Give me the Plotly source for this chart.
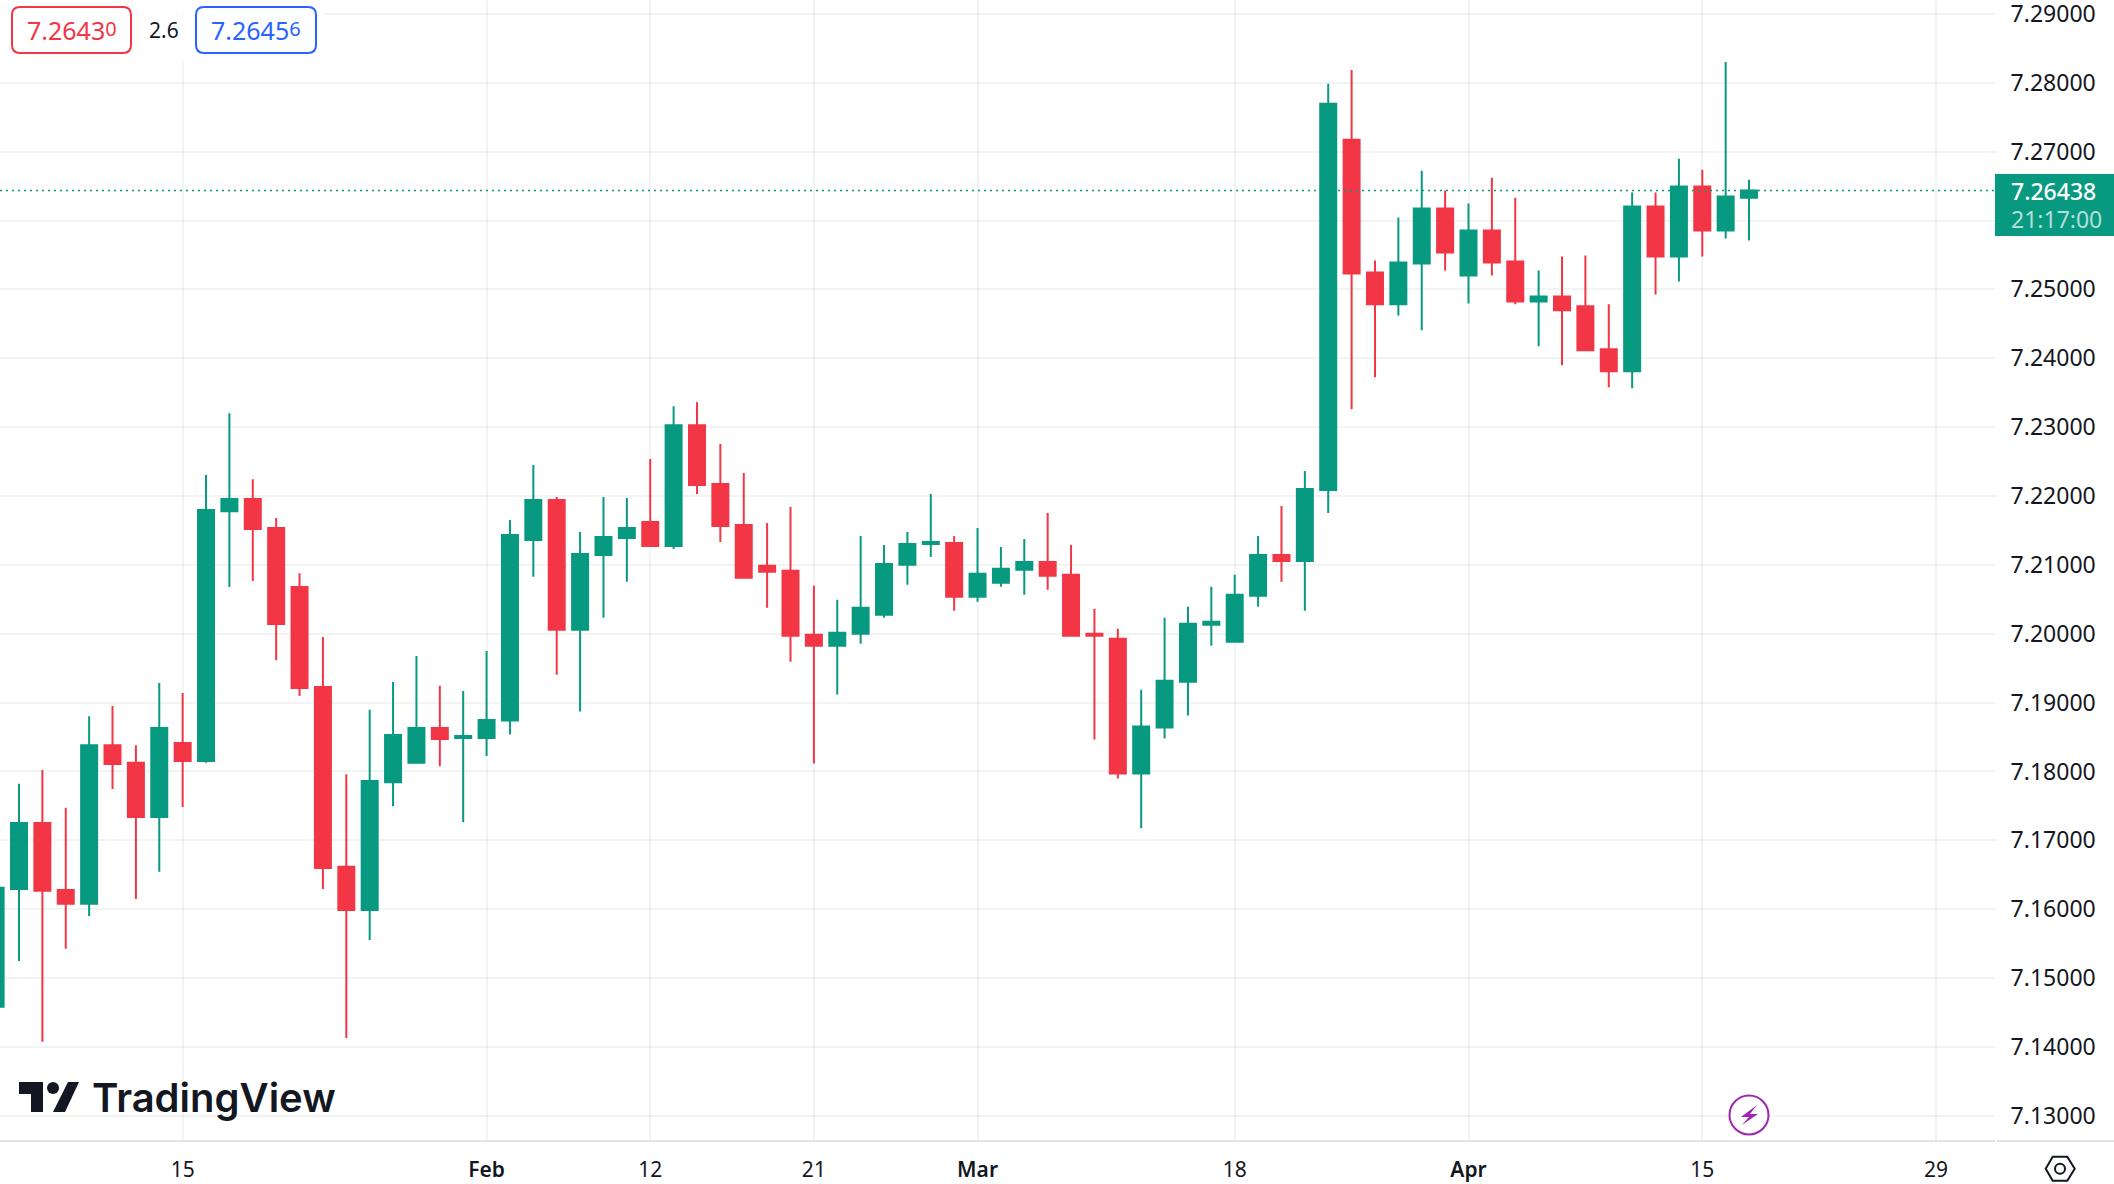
import pandas as pd
import plotly.graph_objects as go

W, H = 2114, 1184
PLOT_RIGHT, PLOT_BOTTOM = 1995, 1140
GREEN = "#089981"
RED = "#f23645"
BLUE = "#2962ff"
INK = "#131722"
FONT = "Noto Sans"

# 1. Daily candles
dates = pd.bdate_range("2024-01-03", "2024-04-17") + pd.Timedelta(hours=12)

opens = [7.14582, 7.16293, 7.17252, 7.16280, 7.16079, 7.18382, 7.18125, 7.17337, 7.18412, 7.18150,
         7.21778, 7.21955, 7.21534, 7.20679, 7.19225, 7.16616, 7.15987, 7.17844, 7.18125, 7.18632,
         7.18486, 7.18486, 7.18739, 7.21362, 7.21942, 7.20058, 7.21145, 7.21391, 7.21623, 7.21275,
         7.23029, 7.22174, 7.21580, 7.20986, 7.20913, 7.19986, 7.19826, 7.20000, 7.20275, 7.21000,
         7.21304, 7.21319, 7.20536, 7.20739, 7.20928, 7.21043, 7.20855, 7.20000, 7.19928, 7.17971,
         7.18638, 7.19304, 7.20130, 7.19884, 7.20551, 7.21145, 7.21058, 7.22087, 7.27174, 7.25246,
         7.24783, 7.25377, 7.26174, 7.25203, 7.25855, 7.25406, 7.24826, 7.24899, 7.24754, 7.24130,
         7.23812, 7.26203, 7.25478, 7.26493, 7.25855, 7.26333]
highs = [7.16900, 7.17820, 7.18021, 7.17472, 7.18803, 7.18950, 7.18382, 7.19286, 7.19139, 7.22304,
         7.23202, 7.22243, 7.21681, 7.20880, 7.19952, 7.17960, 7.18895, 7.19298, 7.19677, 7.19243,
         7.19170, 7.19750, 7.21652, 7.22449, 7.21986, 7.21478, 7.21986, 7.21971, 7.22536, 7.23304,
         7.23362, 7.22754, 7.22333, 7.21609, 7.21841, 7.20696, 7.20493, 7.21420, 7.21290, 7.21478,
         7.22029, 7.21420, 7.21536, 7.21261, 7.21377, 7.21754, 7.21290, 7.20362, 7.20072, 7.19188,
         7.20232, 7.20391, 7.20681, 7.20855, 7.21420, 7.21855, 7.22362, 7.27986, 7.28188, 7.25420,
         7.26043, 7.26725, 7.26435, 7.26246, 7.26623, 7.26333, 7.25275, 7.25478, 7.25493, 7.24783,
         7.26406, 7.26406, 7.26899, 7.26739, 7.28304, 7.26594]
lows = [7.14200, 7.15248, 7.14075, 7.15425, 7.15902, 7.17746, 7.16146, 7.16543, 7.17484, 7.18125,
        7.20679, 7.20764, 7.19616, 7.19097, 7.16293, 7.14130, 7.15553, 7.17496, 7.18120, 7.18076,
        7.17264, 7.18223, 7.18536, 7.20826, 7.19406, 7.18870, 7.20232, 7.20754, 7.21261, 7.21232,
        7.22029, 7.21333, 7.20812, 7.20377, 7.19594, 7.18116, 7.19116, 7.19855, 7.20232, 7.20710,
        7.21116, 7.20333, 7.20464, 7.20681, 7.20565, 7.20638, 7.19957, 7.18464, 7.17899, 7.17174,
        7.18478, 7.18812, 7.19826, 7.19884, 7.20391, 7.20754, 7.20333, 7.21754, 7.23261, 7.23725,
        7.24623, 7.24406, 7.25275, 7.24797, 7.25203, 7.24783, 7.24174, 7.23899, 7.24101, 7.23580,
        7.23565, 7.24928, 7.25116, 7.25478, 7.25739, 7.25710]
closes = [7.16311, 7.17252, 7.16268, 7.16079, 7.18382, 7.18107, 7.17337, 7.18632, 7.18150, 7.21797,
          7.21955, 7.21522, 7.20141, 7.19213, 7.16598, 7.15987, 7.17863, 7.18528, 7.18632, 7.18473,
          7.18516, 7.18748, 7.21435, 7.21942, 7.20058, 7.21159, 7.21406, 7.21536, 7.21275, 7.23029,
          7.22159, 7.21565, 7.20812, 7.20899, 7.19971, 7.19826, 7.20014, 7.20377, 7.21014, 7.21304,
          7.21333, 7.20536, 7.20870, 7.20942, 7.21043, 7.20841, 7.19971, 7.19971, 7.17971, 7.18652,
          7.19319, 7.20145, 7.20174, 7.20565, 7.21145, 7.21058, 7.22101, 7.27696, 7.25232, 7.24783,
          7.25391, 7.26174, 7.25536, 7.25855, 7.25391, 7.24826, 7.24899, 7.24696, 7.24116, 7.23812,
          7.26203, 7.25478, 7.26493, 7.25855, 7.26348, 7.26438]

tick_dates = ["2024-01-15 12:00", "2024-02-01 12:00", "2024-02-12 12:00", "2024-02-21 12:00",
              "2024-03-01 12:00", "2024-03-18 12:00", "2024-04-01 12:00", "2024-04-15 12:00",
              "2024-04-29 12:00"]
month_style = "font-weight:600"
tick_labels = ["15", f"<span style='{month_style}'>Feb</span>", "12", "21",
               f"<span style='{month_style}'>Mar</span>", "18",
               f"<span style='{month_style}'>Apr</span>", "15", "29"]

# 7.26 keeps its grid line but the price tag sits where its label would be
price_ticks = [7.13, 7.14, 7.15, 7.16, 7.17, 7.18, 7.19, 7.20, 7.21, 7.22, 7.23, 7.24, 7.25, 7.26, 7.27, 7.28, 7.29]
price_labels = ["7.13000", "7.14000", "7.15000", "7.16000", "7.17000", "7.18000", "7.19000", "7.20000", "7.21000",
                "7.22000", "7.23000", "7.24000", "7.25000", "", "7.27000", "7.28000", "7.29000"]

last_price = 7.26438
sell_price = "7.2643"
sell_tail = "0"
buy_price = "7.2645"
buy_tail = "6"
spread = "2.6"
countdown = "21:17:00"


def px(x):
    return x / W


def py(y):
    return 1 - y / H


def page_path(points, close=True):
    d = "M" + " L".join(f"{px(x):.5f},{py(y):.5f}" for x, y in points)
    return d + (" Z" if close else "")


def rounded_box(x0, y0, x1, y1, r):
    corners = (f"M{px(x0 + r):.5f},{py(y0):.5f} L{px(x1 - r):.5f},{py(y0):.5f} "
               f"Q{px(x1):.5f},{py(y0):.5f} {px(x1):.5f},{py(y0 + r):.5f} "
               f"L{px(x1):.5f},{py(y1 - r):.5f} Q{px(x1):.5f},{py(y1):.5f} {px(x1 - r):.5f},{py(y1):.5f} "
               f"L{px(x0 + r):.5f},{py(y1):.5f} Q{px(x0):.5f},{py(y1):.5f} {px(x0):.5f},{py(y1 - r):.5f} "
               f"L{px(x0):.5f},{py(y0 + r):.5f} Q{px(x0):.5f},{py(y0):.5f} {px(x0 + r):.5f},{py(y0):.5f} Z")
    return corners


def page_shape(path, fill="rgba(0,0,0,0)", color="rgba(0,0,0,0)", width=0):
    return dict(type="path", xref="paper", yref="paper", path=path, fillcolor=fill,
                line=dict(color=color, width=width), layer="above")


def page_text(x, y, text, size, color, xanchor="center", weight=None):
    font = dict(family=FONT, size=size, color=color)
    if weight:
        font["weight"] = weight
    return dict(xref="paper", yref="paper", x=px(x), y=py(y), text=text, showarrow=False,
                xanchor=xanchor, yanchor="middle", font=font, borderpad=0)


fig = go.Figure()

fig.add_trace(go.Candlestick(
    x=dates, open=opens, high=highs, low=lows, close=closes,
    increasing=dict(line=dict(color=GREEN, width=2), fillcolor=GREEN),
    decreasing=dict(line=dict(color=RED, width=2), fillcolor=RED),
    whiskerwidth=0,
    hoverinfo="skip",
    showlegend=False,
))

shapes = [
    # last price line
    dict(type="line", xref="paper", yref="y", x0=0, x1=px(PLOT_RIGHT), y0=last_price, y1=last_price,
         line=dict(color=GREEN, width=1.5, dash="2px,4px"), layer="above"),
    # bottom border carried under the price scale
    dict(type="line", xref="paper", yref="paper", x0=px(1997), x1=1, y0=py(1141), y1=py(1141),
         line=dict(color="#e0e3eb", width=2), layer="above"),
    # fade behind the bid / ask boxes
    dict(type="rect", xref="paper", yref="paper", x0=0, x1=px(325), y0=py(61), y1=1,
         fillcolor="rgba(255,255,255,0.8)", line=dict(width=0), layer="above"),
    page_shape(rounded_box(12, 7, 131, 53, 8), fill="white", color=RED, width=2),
    page_shape(rounded_box(196, 7, 316, 53, 8), fill="white", color=BLUE, width=2),
    # price tag
    dict(type="rect", xref="paper", yref="paper", x0=px(PLOT_RIGHT), x1=1, y0=py(236), y1=py(174),
         fillcolor=GREEN, line=dict(width=0), layer="above"),
    # watermark mark
    page_shape(page_path([(19, 1082), (43, 1082), (43, 1112), (31, 1112), (31, 1094), (19, 1094)]), fill=INK),
    page_shape(page_path([(68, 1082), (79, 1082), (65, 1112), (53, 1112)]), fill=INK),
    dict(type="circle", xref="paper", yref="paper", x0=px(47), x1=px(59), y0=py(1094), y1=py(1082),
         fillcolor=INK, line=dict(width=0), layer="above"),
    # lightning badge
    dict(type="circle", xref="paper", yref="paper", x0=px(1729.5), x1=px(1768.5), y0=py(1134.5), y1=py(1095.5),
         fillcolor="white", line=dict(color="#9c27b0", width=2), layer="above"),
    page_shape(page_path([(1757, 1105), (1741, 1117), (1749, 1117), (1742, 1125), (1758, 1114), (1750, 1114)]),
               fill="#9c27b0"),
    # scale settings hexagon
    page_shape(page_path([(2045.7, 1168.7), (2052.7, 1156.7), (2067.3, 1156.7), (2074.7, 1168.7),
                          (2067.3, 1180.7), (2052.7, 1180.7)]), color=INK, width=2),
    dict(type="circle", xref="paper", yref="paper", x0=px(2055), x1=px(2065), y0=py(1173.7), y1=py(1163.7),
         line=dict(color=INK, width=2), layer="above"),
]

tail_style = "font-size:20px;baseline-shift:4px"
annotations = [
    page_text(71.5, 29.5, f"{sell_price}<span style='{tail_style}'>{sell_tail}</span>", 25, RED),
    page_text(164, 30.5, spread, 21, INK),
    page_text(256, 29.5, f"{buy_price}<span style='{tail_style}'>{buy_tail}</span>", 25, BLUE),
    page_text(2010, 191, f"{last_price:.5f}", 23, "white", xanchor="left", weight=500),
    page_text(2010, 219, countdown, 23, "rgba(255,255,255,0.7)", xanchor="left"),
    page_text(91, 1097, "TradingView", 40, INK, xanchor="left", weight=600),
]
annotations[-1]["font"]["family"] = "Inter"

fig.update_layout(
    width=W,
    height=H,
    margin=dict(l=0, r=0, t=0, b=0),
    paper_bgcolor="white",
    plot_bgcolor="white",
    font=dict(family=FONT, size=22, color=INK),
    showlegend=False,
    hovermode=False,
    shapes=shapes,
    annotations=annotations,
    boxgap=0.316,
    boxgroupgap=0,
    xaxis=dict(
        domain=[0, px(PLOT_RIGHT)],
        range=["2024-01-03 16:30", "2024-05-02 00:29"],
        rangebreaks=[dict(bounds=["sat", "mon"])],
        rangeslider=dict(visible=False),
        automargin=False,
        tickmode="array",
        tickvals=tick_dates,
        ticktext=tick_labels,
        tickfont=dict(size=21, color=INK),
        ticks="outside",
        ticklen=10,
        tickcolor="rgba(0,0,0,0)",
        ticklabeloverflow="allow",
        showgrid=True,
        gridcolor="rgba(42,46,57,0.06)",
        gridwidth=1.5,
        showline=True,
        linecolor="#e0e3eb",
        linewidth=2,
        zeroline=False,
    ),
    yaxis=dict(
        domain=[py(PLOT_BOTTOM), 1],
        range=[7.12648, 7.29203],
        side="right",
        automargin=False,
        tickmode="array",
        tickvals=price_ticks,
        ticktext=price_labels,
        tickfont=dict(size=23, color=INK),
        ticks="outside",
        ticklen=10,
        tickcolor="rgba(0,0,0,0)",
        ticklabeloverflow="allow",
        showgrid=True,
        gridcolor="rgba(42,46,57,0.06)",
        gridwidth=1.5,
        zeroline=False,
    ),
)

# the default page has a body margin that would shift everything
fig.write_html("out.html", config={"displayModeBar": False},
               post_script="document.body.style.margin='0';document.body.style.overflow='hidden';")
